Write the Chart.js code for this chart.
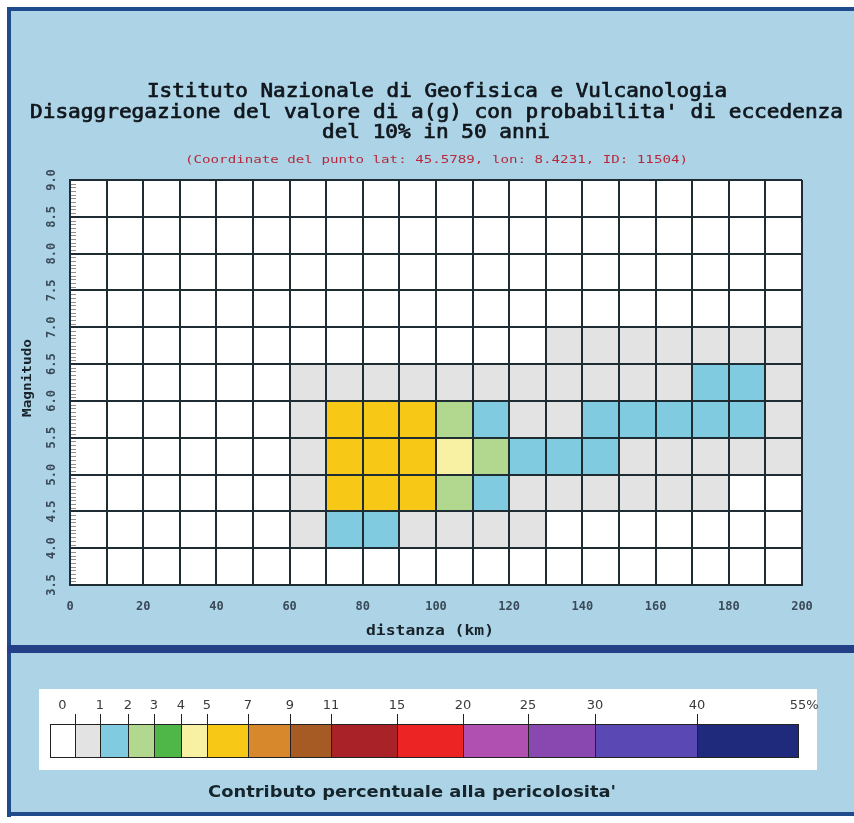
<!DOCTYPE html>
<html>
<head>
<meta charset="utf-8">
<title>Disaggregazione a(g)</title>
<script src="https://cdn.jsdelivr.net/npm/chart.js@4.4.1/dist/chart.umd.min.js"></script>
<style>
  html, body { margin: 0; padding: 0; background: #ffffff; }
  #wrap { width: 854px; height: 823px; position: relative; }
  canvas { display: block; }
</style>
</head>
<body>
<div id="wrap"><canvas id="disagg" width="854" height="823" style="width:854px;height:823px"></canvas></div>
<script>
// ---- Data -------------------------------------------------------------
// Lower edges of the distance bins (km) and magnitude bins
const distanzaKm = [0, 10, 20, 30, 40, 50, 60, 70, 80, 90, 100, 110, 120, 130, 140, 150, 160, 170, 180, 190];
const magnitudo  = [3.5, 4.0, 4.5, 5.0, 5.5, 6.0, 6.5, 7.0, 7.5, 8.0, 8.5];

// Percentage contribution of each cell, one array per magnitude bin (distance 0..190 km)
const contribM35 = [0, 0, 0, 0, 0, 0, 0,   0,   0,   0,   0,   0,   0,   0,   0,   0,   0,   0,   0,   0];
const contribM40 = [0, 0, 0, 0, 0, 0, 0.4, 1.6, 1.3, 0.7, 0.6, 0.5, 0.3, 0,   0,   0,   0,   0,   0,   0];
const contribM45 = [0, 0, 0, 0, 0, 0, 0.6, 5.4, 5.8, 5.2, 2.6, 1.4, 0.8, 0.7, 0.6, 0.5, 0.4, 0.3, 0,   0];
const contribM50 = [0, 0, 0, 0, 0, 0, 0.7, 5.6, 6.1, 5.5, 4.4, 2.3, 1.6, 1.3, 1.1, 0.9, 0.8, 0.7, 0.6, 0.4];
const contribM55 = [0, 0, 0, 0, 0, 0, 0.6, 5.3, 5.7, 5.2, 2.4, 1.5, 0.9, 0.9, 1.2, 1.3, 1.4, 1.5, 1.2, 0.7];
const contribM60 = [0, 0, 0, 0, 0, 0, 0.3, 0.4, 0.5, 0.5, 0.5, 0.5, 0.6, 0.6, 0.7, 0.8, 0.9, 1.1, 1.2, 0.6];
const contribM65 = [0, 0, 0, 0, 0, 0, 0,   0,   0,   0,   0,   0,   0,   0.2, 0.2, 0.3, 0.3, 0.4, 0.4, 0.3];
const contribM70 = [0, 0, 0, 0, 0, 0, 0,   0,   0,   0,   0,   0,   0,   0,   0,   0,   0,   0,   0,   0];
const contribM75 = [0, 0, 0, 0, 0, 0, 0,   0,   0,   0,   0,   0,   0,   0,   0,   0,   0,   0,   0,   0];
const contribM80 = [0, 0, 0, 0, 0, 0, 0,   0,   0,   0,   0,   0,   0,   0,   0,   0,   0,   0,   0,   0];
const contribM85 = [0, 0, 0, 0, 0, 0, 0,   0,   0,   0,   0,   0,   0,   0,   0,   0,   0,   0,   0,   0];
const contributi = [contribM35, contribM40, contribM45, contribM50, contribM55, contribM60,
                    contribM65, contribM70, contribM75, contribM80, contribM85];

// Colour classes (percent thresholds) and their colours
const classiPercentuali = [0, 1, 2, 3, 4, 5, 7, 9, 11, 15, 20, 25, 30, 40, 55];
const coloriClassi = ['#ffffff', '#e3e3e3', '#80cbe0', '#b2d78e', '#4fb748', '#f8f0a2', '#f7c916',
                      '#d8882c', '#a65a24', '#a82228', '#ec2424', '#b050b0', '#8848b0', '#5a48b4', '#202a7c'];

const titoloRighe = [
  'Istituto Nazionale di Geofisica e Vulcanologia',
  "Disaggregazione del valore di a(g) con probabilita' di eccedenza",
  'del 10% in 50 anni'
];
const sottotitolo = '(Coordinate del punto lat: 45.5789, lon: 8.4231, ID: 11504)';
const titoloAsseX = 'distanza (km)';
const titoloAsseY = 'Magnitudo';
const titoloLegenda = "Contributo percentuale alla pericolosita'";

// ---- Helpers ------------------------------------------------------------
const BG = '#add4e6';
const FRAME = '#1f4a8c';
const GRID = '#1e2c34';
const MONO = '"DejaVu Sans Mono", "Liberation Mono", monospace';
const SANS = '"DejaVu Sans", "Liberation Sans", sans-serif';

function coloreClasse(v) {
  if (v <= 0) return coloriClassi[0];
  for (let k = 1; k < classiPercentuali.length; k++) {
    if (v < classiPercentuali[k]) return coloriClassi[k];
  }
  return coloriClassi[coloriClassi.length - 1];
}

// draws a centred string squeezed/stretched to a given width
function testoLargo(ctx, text, cx, cy, width, font, color, angle, weight) {
  ctx.save();
  ctx.font = font;
  ctx.fillStyle = color;
  ctx.strokeStyle = color;
  ctx.textAlign = 'center';
  ctx.textBaseline = 'middle';
  ctx.translate(cx, cy);
  if (angle) ctx.rotate(angle);
  const w = ctx.measureText(text).width;
  ctx.scale(width / w, 1);
  ctx.fillText(text, 0, 0);
  if (weight) {
    ctx.lineWidth = weight;
    ctx.strokeText(text, 0, 0);
  }
  ctx.restore();
}

// ---- Datasets: one floating-bar row per magnitude bin --------------------
const datasets = magnitudo.map((m, i) => ({
  label: 'M ' + m.toFixed(1),
  data: distanzaKm.map(d => ({ x: d + 5, y: [m, m + 0.5] })),
  backgroundColor: contributi[i].map(coloreClasse),
  borderWidth: 0,
  barPercentage: 1.0,
  categoryPercentage: 1.0
}));

// ---- Page decoration, titles and colour scale ------------------------------
const cornice = {
  id: 'cornice',
  beforeDraw(chart) {
    const ctx = chart.ctx;
    const a = chart.chartArea;
    ctx.save();
    ctx.fillStyle = '#ffffff';
    ctx.fillRect(0, 0, chart.width, chart.height);
    ctx.fillStyle = BG;
    ctx.fillRect(8, 8, chart.width - 8, 808);
    ctx.fillStyle = FRAME;
    ctx.fillRect(7, 7, chart.width - 7, 4);       // top rule
    ctx.fillRect(7, 7, 4, 810);                   // left rule
    ctx.fillStyle = '#233f88';
    ctx.fillRect(7, 645, chart.width - 7, 8);     // separator band
    ctx.fillStyle = FRAME;
    ctx.fillRect(7, 812, chart.width - 7, 4);     // bottom rule
    ctx.fillStyle = '#ffffff';
    ctx.fillRect(39, 689, 778, 81);               // colour-scale panel
    ctx.fillRect(a.left, a.top, a.right - a.left, a.bottom - a.top);
    ctx.restore();
  },
  afterDraw(chart) {
    const ctx = chart.ctx;
    const a = chart.chartArea;
    const y = chart.scales.y;

    // minor ticks on the inner left edge
    ctx.save();
    ctx.strokeStyle = 'rgba(70,45,45,0.55)';
    ctx.lineWidth = 1;
    ctx.beginPath();
    for (let k = 1; k < 110; k++) {
      if (k % 10 === 0) continue;
      const py = Math.round(y.getPixelForValue(3.5 + k * 0.05)) + 0.5;
      ctx.moveTo(a.left + 1, py);
      ctx.lineTo(a.left + 6, py);
    }
    ctx.stroke();
    ctx.restore();

    // titles
    testoLargo(ctx, titoloRighe[0], 437, 92, 580, '19px ' + MONO, '#10161c', 0, 0.7);
    testoLargo(ctx, titoloRighe[1], 436.5, 113, 813, '19px ' + MONO, '#10161c', 0, 0.7);
    testoLargo(ctx, titoloRighe[2], 436, 133, 228, '19px ' + MONO, '#10161c', 0, 0.7);
    testoLargo(ctx, sottotitolo, 436.5, 160, 503, '11px ' + MONO, '#b8283c');

    // axis titles
    testoLargo(ctx, titoloAsseX, 430, 631, 128, 'bold 14px ' + MONO, '#18222a');
    testoLargo(ctx, titoloAsseY, 28, 378, 78, 'bold 13px ' + MONO, '#18222a', -Math.PI / 2);

    // colour scale
    const edges = [50, 75, 100, 128, 154, 181, 207, 248, 290, 331, 397, 463, 528, 595, 697, 798];
    const top = 724, bot = 757;
    ctx.save();
    for (let k = 0; k < coloriClassi.length; k++) {
      ctx.fillStyle = coloriClassi[k];
      ctx.fillRect(edges[k], top, edges[k + 1] - edges[k], bot - top);
    }
    ctx.strokeStyle = '#222222';
    ctx.lineWidth = 1;
    ctx.strokeRect(edges[0] + 0.5, top + 0.5, edges[edges.length - 1] - edges[0], bot - top);
    ctx.beginPath();
    for (let k = 1; k < edges.length - 1; k++) {
      ctx.moveTo(edges[k] + 0.5, 714);
      ctx.lineTo(edges[k] + 0.5, bot);
    }
    ctx.stroke();
    ctx.fillStyle = '#3a3a3a';
    ctx.font = '13px ' + SANS;
    ctx.textBaseline = 'middle';
    ctx.textAlign = 'center';
    ctx.fillText(String(classiPercentuali[0]), (edges[0] + edges[1]) / 2, 706);
    for (let k = 1; k < classiPercentuali.length - 1; k++) {
      ctx.fillText(String(classiPercentuali[k]), edges[k + 1], 706);
    }
    const last = String(classiPercentuali[classiPercentuali.length - 1]);
    const wLast = ctx.measureText(last).width;
    ctx.textAlign = 'left';
    ctx.fillText(last + '%', edges[edges.length - 1] - wLast / 2, 706);
    ctx.restore();

    testoLargo(ctx, titoloLegenda, 412, 793, 408, 'bold 15px ' + SANS, '#16242c');
  }
};

// ---- Chart ---------------------------------------------------------------
new Chart(document.getElementById('disagg'), {
  type: 'bar',
  data: { datasets },
  options: {
    responsive: false,
    animation: false,
    events: [],
    layout: { padding: { left: 14, right: 52, top: 180, bottom: 198 } },
    plugins: { legend: { display: false }, tooltip: { enabled: false } },
    scales: {
      x: {
        type: 'linear',
        min: 0, max: 200,
        offset: false,
        stacked: true,
        grid: { color: GRID, lineWidth: 2, drawTicks: false, offset: false, z: 1 },
        border: { display: true, color: GRID, width: 2, z: 1 },
        ticks: {
          stepSize: 10,
          autoSkip: false,
          maxRotation: 0,
          padding: 15,
          color: '#3a4a58',
          font: { family: MONO, size: 12, weight: 'bold' },
          callback: v => (v % 20 === 0 ? String(v) : '')
        },
        afterFit: s => { s.height = 40; }
      },
      y: {
        type: 'linear',
        min: 3.5, max: 9.0,
        grid: { color: GRID, lineWidth: 2, drawTicks: false, z: 1 },
        border: { display: true, color: GRID, width: 2, z: 1 },
        ticks: {
          stepSize: 0.5,
          autoSkip: false,
          minRotation: 90,
          maxRotation: 90,
          crossAlign: 'center',
          padding: 7,
          color: '#3a4a58',
          font: { family: MONO, size: 12, weight: 'bold' },
          callback: v => Number(v).toFixed(1)
        },
        afterFit: s => { s.width = 56; }
      }
    }
  },
  plugins: [cornice]
});
</script>
</body>
</html>
